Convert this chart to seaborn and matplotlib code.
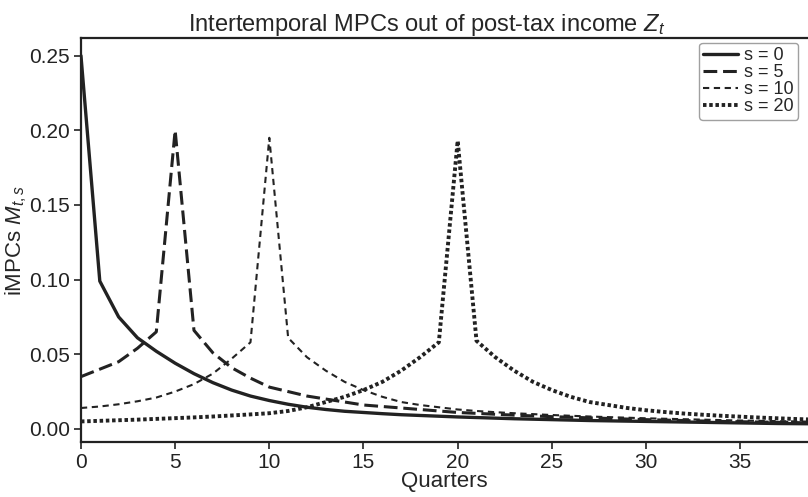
import matplotlib
matplotlib.use("Agg")
import matplotlib.pyplot as plt
import numpy as np
import pandas as pd
import seaborn as sns

# Quarters 0..39
quarters = list(range(40))

# iMPC columns
mpc_s0 = [0.250, 0.099, 0.075, 0.061, 0.052, 0.044, 0.037, 0.031, 0.026, 0.022,
          0.019, 0.0165, 0.0145, 0.013, 0.0118, 0.011, 0.0102, 0.0095, 0.009, 0.0085,
          0.008, 0.0076, 0.0072, 0.0068, 0.0065, 0.0062, 0.0059, 0.0056, 0.0054, 0.0052,
          0.005, 0.0048, 0.0046, 0.0044, 0.0042, 0.004, 0.0038, 0.0036, 0.0035, 0.0034]
mpc_s5 = [0.035, 0.040, 0.045, 0.054, 0.065, 0.200, 0.066, 0.051, 0.041, 0.034,
          0.028, 0.025, 0.022, 0.020, 0.018, 0.016, 0.015, 0.014, 0.013, 0.012,
          0.011, 0.0104, 0.0098, 0.0092, 0.0087, 0.0082, 0.0078, 0.0074, 0.007, 0.0066,
          0.0062, 0.0059, 0.0056, 0.0053, 0.005, 0.0048, 0.0046, 0.0044, 0.0042, 0.004]
mpc_s10 = [0.014, 0.015, 0.0165, 0.0185, 0.021, 0.025, 0.030, 0.037, 0.047, 0.058,
           0.195, 0.061, 0.048, 0.039, 0.0315, 0.026, 0.0215, 0.018, 0.016, 0.0145,
           0.013, 0.012, 0.0112, 0.0105, 0.0099, 0.0093, 0.0088, 0.0083, 0.0079, 0.0075,
           0.0071, 0.0068, 0.0065, 0.0062, 0.0059, 0.0056, 0.0054, 0.0052, 0.005, 0.0048]
mpc_s20 = [0.005, 0.0054, 0.0058, 0.0062, 0.0067, 0.0072, 0.0077, 0.0083, 0.009, 0.0097,
           0.0105, 0.012, 0.0145, 0.018, 0.0215, 0.026, 0.0315, 0.039, 0.048, 0.058,
           0.193, 0.059, 0.048, 0.039, 0.0315, 0.026, 0.0215, 0.018, 0.016, 0.0140,
           0.0125, 0.0113, 0.0103, 0.0095, 0.0088, 0.0082, 0.0076, 0.0071, 0.0066, 0.0062]

labels = ["s = 0", "s = 5", "s = 10", "s = 20"]

df = pd.DataFrame({
    "Quarters": quarters * 4,
    "mpc": mpc_s0 + mpc_s5 + mpc_s10 + mpc_s20,
    "s": [lab for lab in labels for _ in quarters],
})

sns.set_style("ticks")
plt.rcParams["font.family"] = ["Liberation Sans", "DejaVu Sans"]
plt.rcParams["mathtext.fontset"] = "custom"
plt.rcParams["mathtext.rm"] = "Liberation Sans"
plt.rcParams["mathtext.it"] = "Liberation Sans:italic"

fig = plt.figure(figsize=(8.08, 4.97), dpi=100)
ax = fig.add_axes([0.1002, 0.110, 0.8998, 0.814])

line_col = "#222222"
dash_map = {
    "s = 0": "",
    "s = 5": (4.5, 1.9),
    "s = 10": (3.0, 2.2),
    "s = 20": (0.9, 0.7),
}
sns.lineplot(data=df, x="Quarters", y="mpc", style="s", dashes=dash_map,
             color=line_col, ax=ax, legend=True)

# line widths per series
widths = [2.4, 2.2, 1.5, 2.8]
for line, w in zip(ax.get_lines()[:4], widths):
    line.set_linewidth(w)

ax.set_xlim(0, 38.6)
ax.set_ylim(-0.009, 0.262)
ax.set_xticks([0, 5, 10, 15, 20, 25, 30, 35])
ax.set_yticks([0.0, 0.05, 0.10, 0.15, 0.20, 0.25])
ax.set_yticklabels(["0.00", "0.05", "0.10", "0.15", "0.20", "0.25"])
ax.tick_params(labelsize=15, length=5, width=1.2, colors="#222222", pad=3)
for sp in ["left", "bottom", "top"]:
    ax.spines[sp].set_linewidth(1.6)
    ax.spines[sp].set_color("#222222")
ax.spines["right"].set_visible(False)

ax.set_xlabel("Quarters", fontsize=16, labelpad=-1)
ax.set_ylabel("iMPCs $M_{t,s}$", fontsize=16)
ax.yaxis.set_label_coords(-0.071, 0.5)
ax.set_title("Intertemporal MPCs out of post-tax income $Z_t$", fontsize=17,
             x=0.475, pad=3)

leg = ax.legend(loc="upper left", bbox_to_anchor=(0.850, 0.988), fontsize=13,
                handlelength=1.9, labelspacing=0.0, borderpad=0.25,
                handletextpad=0.35, borderaxespad=0, frameon=True, fancybox=True)
leg.get_frame().set_edgecolor("#888888")
leg.get_frame().set_linewidth(1.0)
for h, w in zip(leg.get_lines(), widths):
    h.set_linewidth(w)

fig.savefig("out.png", dpi=100)
